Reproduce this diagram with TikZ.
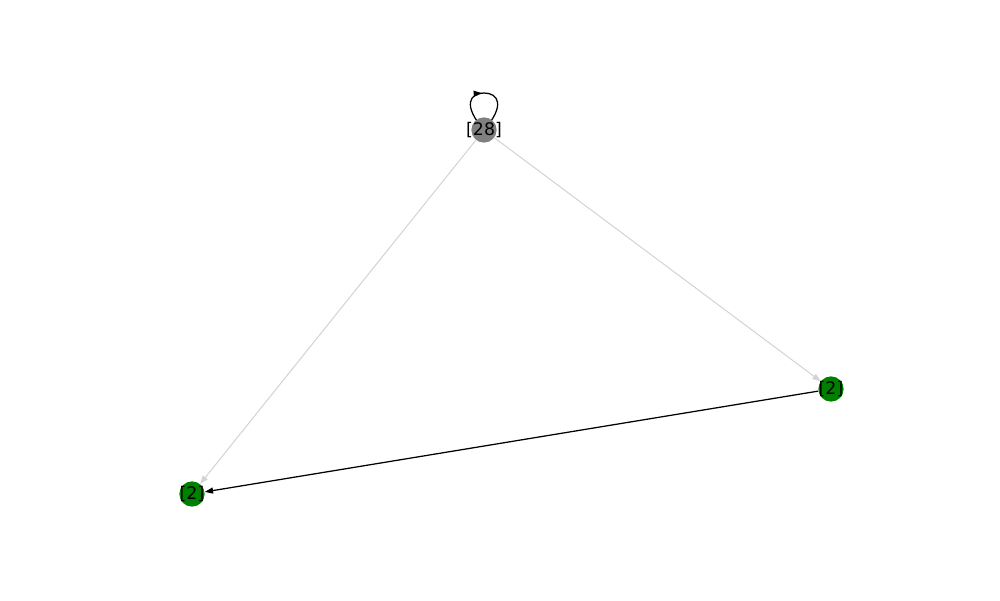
\documentclass[tikz,border=0pt]{standalone}
\usepackage{fontspec}
\setmainfont{DejaVu Sans}
\usetikzlibrary{arrows.meta,decorations.markings}
\definecolor{edgegrey}{HTML}{D3D3D3}
\definecolor{nodegrey}{HTML}{808080}
\definecolor{nodegreen}{HTML}{008000}
\begin{document}
\begin{tikzpicture}[x=0.72pt,y=-0.72pt,
  gnode/.style={circle,fill=#1,draw=none,minimum size=18.2pt,inner sep=0pt},
  lab/.style={font=\fontsize{12.5pt}{14pt}\selectfont,text=black,inner sep=0pt},
  tip/.style={-{Triangle[length=6pt,width=4.3pt]}},
  lightedge/.style={draw=edgegrey,line width=0.72pt,tip},
  darkedge/.style={draw=black,line width=0.9pt,tip}]
\useasboundingbox (0,0) rectangle (1000,600);
\fill[white] (0,0) rectangle (1000,600);
\coordinate (ta) at (484,130);
\coordinate (la) at (192,494);
\coordinate (ra) at (831,389);
% self loop (under the node)
\draw[line width=0.9pt,
  postaction={decorate},
  decoration={markings,mark=at position 0.48 with {\arrow{Triangle[length=6pt,width=4.3pt]}}}]
  (ta) .. controls (462,105) and (470,93) .. (484,93)
  .. controls (498,93) and (506,105) .. (ta);
\node[gnode=nodegrey] (top) at (ta) {};
\node[gnode=nodegreen] (left) at (la) {};
\node[gnode=nodegreen] (right) at (ra) {};
\draw[lightedge] (top) -- (left);
\draw[lightedge] (top) -- (right);
\draw[darkedge] (right) -- (left);
% labels
\node[lab] (tl) at (ta) {[28]};
\node[lab] (ll) at (la) {[2]};
\node[lab] (rl) at (ra) {[2]};
\end{tikzpicture}
\end{document}
